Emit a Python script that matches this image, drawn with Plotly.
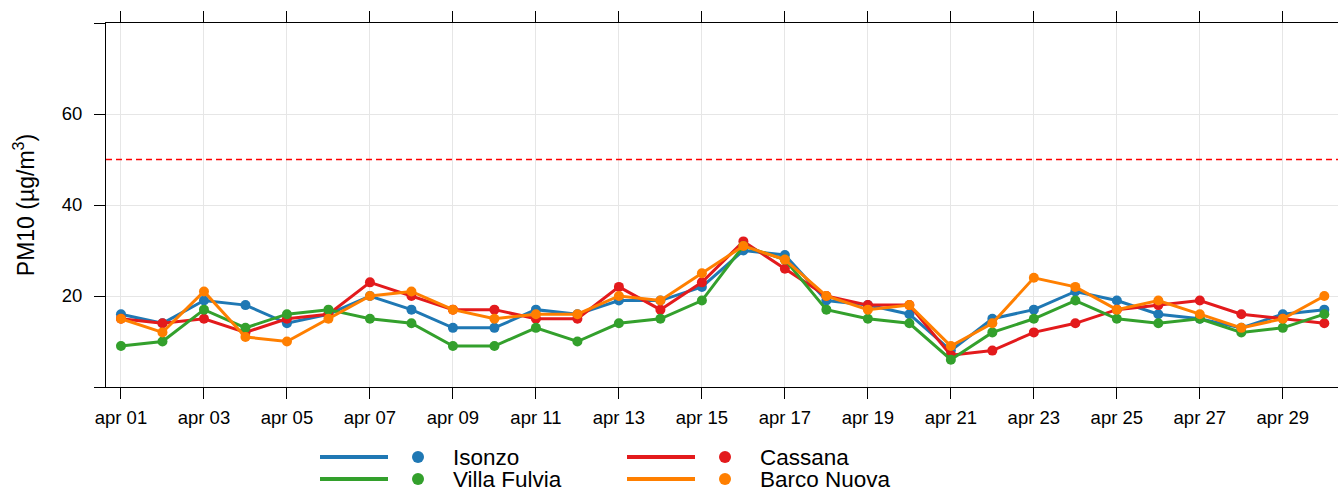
import plotly.graph_objects as go
from datetime import date, datetime, timedelta

days = [date(2021, 4, d) for d in range(1, 31)]
tick_days = [date(2021, 4, d) for d in range(1, 31, 2)]
tick_labels = ["apr %02d" % d.day for d in tick_days]

stations = ["Isonzo", "Cassana", "Villa Fulvia", "Barco Nuova"]
colors = {"Isonzo": "#1f78b4", "Cassana": "#e31a1c", "Villa Fulvia": "#33a02c", "Barco Nuova": "#ff7f00"}

isonzo = [16, 14, 19, 18, 14, 16, 20, 17, 13, 13, 17, 16, 19, 19, 22, 30, 29, 19, 18, 16,
          8, 15, 17, 21, 19, 16, 15, 13, 16, 17]
cassana = [15, 14, 15, 12, 15, 16, 23, 20, 17, 17, 15, 15, 22, 17, 23, 32, 26, 20, 18, 18,
           7, 8, 12, 14, 17, 18, 19, 16, 15, 14]
villa_fulvia = [9, 10, 17, 13, 16, 17, 15, 14, 9, 9, 13, 10, 14, 15, 19, 31, 28, 17, 15, 14,
                6, 12, 15, 19, 15, 14, 15, 12, 13, 16]
barco_nuova = [15, 12, 21, 11, 10, 15, 20, 21, 17, 15, 16, 16, 20, 19, 25, 31, 28, 20, 17, 18,
               9, 14, 24, 22, 17, 19, 16, 13, 15, 20]
series = {"Isonzo": isonzo, "Cassana": cassana, "Villa Fulvia": villa_fulvia, "Barco Nuova": barco_nuova}

limit_value = 50
y_ticks = [0, 20, 40, 60, 80]
y_tick_text = ["", "20", "40", "60", ""]

FONT = "Liberation Sans, Arial, sans-serif"

# Layout geometry (pixels)
L, R, T, B = 106, 0, 23, 101
W, H = 1338, 488
pw, ph = W - L - R, H - T - B

def px(x):
    return (x - L) / pw

def py(y):
    return (H - B - y) / ph

x0 = datetime(2021, 4, 1) - timedelta(days=0.361)
x1 = datetime(2021, 4, 1) + timedelta(days=29.33)

fig = go.Figure()
for name in stations:
    fig.add_trace(go.Scatter(
        x=days, y=series[name], mode="lines+markers", name=name,
        line=dict(color=colors[name], width=3),
        marker=dict(color=colors[name], size=10),
        showlegend=False, cliponaxis=True,
    ))

fig.update_layout(
    width=W, height=H,
    margin=dict(l=L, r=R, t=T, b=B, pad=0),
    plot_bgcolor="white", paper_bgcolor="white",
    font=dict(family=FONT, color="black"),
    xaxis=dict(
        range=[x0, x1], tickvals=tick_days, ticktext=tick_labels,
        showgrid=True, gridcolor="#e6e6e6", gridwidth=1,
        showline=True, linecolor="black", linewidth=1, mirror="ticks",
        ticks="outside", ticklen=11, tickcolor="black", tickwidth=1,
        tickfont=dict(size=18.5), zeroline=False, ticklabelstandoff=3,
    ),
    yaxis=dict(
        range=[0, 80], tickvals=y_ticks, ticktext=y_tick_text,
        showgrid=True, gridcolor="#e6e6e6", gridwidth=1,
        showline=True, linecolor="black", linewidth=1,
        ticks="outside", ticklen=11, tickcolor="black", tickwidth=1,
        tickfont=dict(size=18.5), zeroline=False, ticklabelstandoff=8,
        title=dict(text="PM10 (µg/m<sup>3</sup>)", font=dict(size=23), standoff=20),
    ),
)

fig.add_shape(type="line", xref="paper", yref="y", x0=0, x1=1, y0=limit_value, y1=limit_value,
              line=dict(color="#ff0000", width=1.5, dash="6px,4px"))

legend_items = [("Isonzo", 320, 457), ("Cassana", 627, 457),
                ("Villa Fulvia", 320, 479), ("Barco Nuova", 627, 479)]
for name, lx, ly in legend_items:
    c = colors[name]
    fig.add_shape(type="line", xref="paper", yref="paper",
                  x0=px(lx), x1=px(lx + 68), y0=py(ly), y1=py(ly),
                  line=dict(color=c, width=4))
    fig.add_shape(type="circle", xref="paper", yref="paper",
                  xsizemode="pixel", ysizemode="pixel",
                  xanchor=px(lx + 98), yanchor=py(ly),
                  x0=-6, x1=6, y0=-6, y1=6,
                  fillcolor=c, line=dict(color=c, width=0))
    fig.add_annotation(text=name, xref="paper", yref="paper",
                       x=px(lx + 131), y=py(ly), xanchor="left", yanchor="middle",
                       showarrow=False, font=dict(family=FONT, size=22.5, color="black"))

fig.write_html("out.html", config={"displayModeBar": False},
               post_script="document.body.style.margin='0px';")
